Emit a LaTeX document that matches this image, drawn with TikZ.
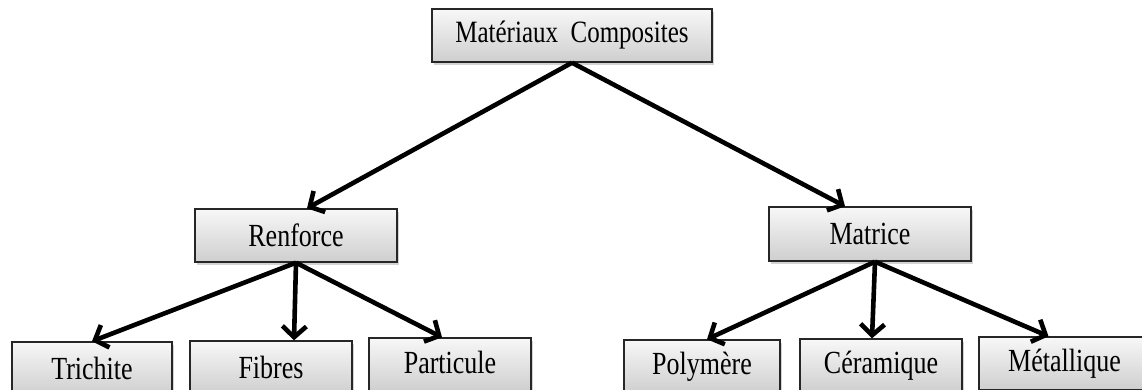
\documentclass[tikz,border=0pt]{standalone}
\usepackage{fontspec}
\setmainfont{Liberation Serif}
\usetikzlibrary{arrows.meta,shadows}
\newcommand{\vtxt}[1]{\scalebox{1}[1.24]{#1}}
\tikzset{
  boxnode/.style={draw=black!85, line width=1.4pt, rectangle, inner sep=0pt,
    top color=gray!6, bottom color=gray!38,
    drop shadow={opacity=0.35, shadow xshift=2pt, shadow yshift=-3pt},
    font=\fontsize{26}{30}\selectfont},
  conn/.style={line width=4.6pt, draw=black,
    -{Straight Barb[length=11pt,width=24pt,line width=4.6pt]}},
}
\begin{document}
\begin{tikzpicture}[x=1pt,y=-1pt]
\useasboundingbox (0,0) rectangle (1142,389);
\node[boxnode, minimum width=280pt, minimum height=53pt, font=\fontsize{25}{29}\selectfont] (top) at (572,35.5) {\vtxt{Matériaux\ \ Composites}};
\node[boxnode, minimum width=202pt, minimum height=53pt] (ren) at (296,235.5) {\vtxt{Renforce}};
\node[boxnode, minimum width=202pt, minimum height=54pt] (mat) at (870,234) {\vtxt{Matrice}};
\node[boxnode, minimum width=160pt, minimum height=53pt] (tri) at (92,368.5) {\vtxt{Trichite}};
\node[boxnode, minimum width=162pt, minimum height=53pt] (fib) at (271,367.5) {\vtxt{Fibres}};
\node[boxnode, minimum width=162pt, minimum height=53pt] (par) at (450,364.5) {\raisebox{4pt}{\vtxt{Particule}}};
\node[boxnode, minimum width=156pt, minimum height=53pt] (pol) at (702,366.5) {\vtxt{Polymère}};
\node[boxnode, minimum width=162pt, minimum height=53pt] (cer) at (881,365.5) {\raisebox{2pt}{\vtxt{Céramique}}};
\node[boxnode, minimum width=171pt, minimum height=53pt] (met) at (1064.5,363.5) {\raisebox{2pt}{\vtxt{Métallique}}};
\draw[conn] (top.south) -- ([xshift=11pt]ren.north);
\draw[conn] (top.south) -- ([xshift=-25pt]mat.north);
\draw[conn] (ren.south) -- (tri.north);
\draw[conn] (ren.south) -- ([xshift=-2pt]ren.south |- fib.north);
\draw[conn] (ren.south) -- ([xshift=-8pt]par.north);
\draw[conn] ([xshift=5pt]mat.south) -- ([xshift=5pt]pol.north);
\draw[conn] ([xshift=5pt]mat.south) -- ([xshift=-9pt]cer.north);
\draw[conn] ([xshift=5pt]mat.south) -- ([xshift=-16pt]met.north);
\end{tikzpicture}
\end{document}
